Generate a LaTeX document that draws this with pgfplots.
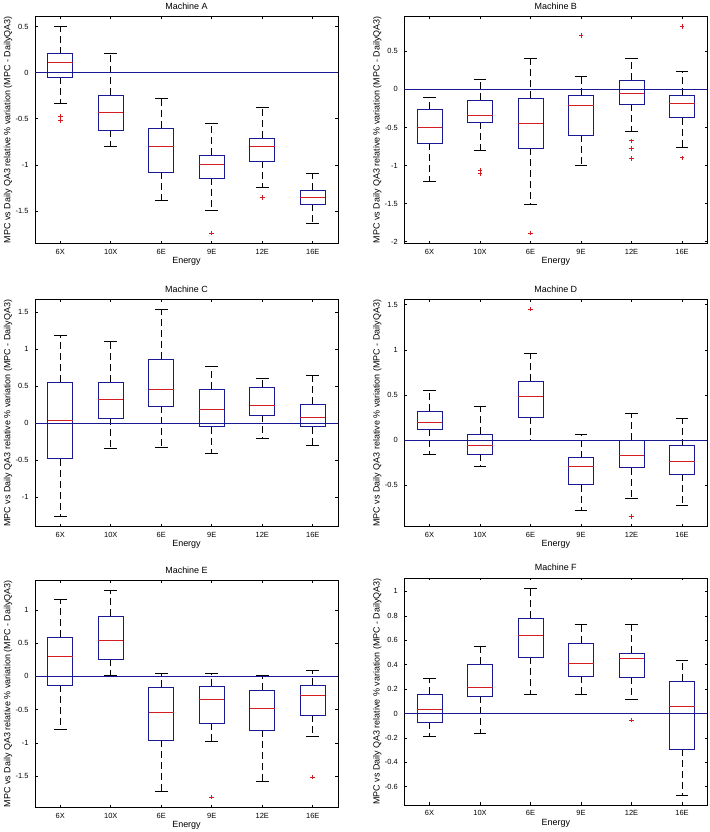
\documentclass[border=0pt]{standalone}
\usepackage{pgfplots}
\pgfplotsset{compat=1.18}
\usepgfplotslibrary{statistics}
\usepackage{fontspec}
\setmainfont{Liberation Sans}
\definecolor{boxblue}{RGB}{25,25,150}
\definecolor{medred}{RGB}{210,30,35}
\pgfplotsset{
  boxplot/draw direction=y,
  boxplot/box extend=0.5,
  boxplot/whisker extend=0.25,
  boxplot/every median/.style={draw=medred, line width=0.8bp},
  boxplot/draw/lower whisker/.code={%
    \draw[black, line width=0.7bp, dash pattern=on 7bp off 4bp]
      (boxplot cs:\pgfplotsboxplotvalue{lower quartile})
      -- (boxplot cs:\pgfplotsboxplotvalue{lower whisker});
    \draw[black, line width=0.7bp]
      (boxplot whisker cs:\pgfplotsboxplotvalue{lower whisker},0)
      -- (boxplot whisker cs:\pgfplotsboxplotvalue{lower whisker},1);
  },
  boxplot/draw/upper whisker/.code={%
    \draw[black, line width=0.7bp, dash pattern=on 7bp off 4bp]
      (boxplot cs:\pgfplotsboxplotvalue{upper quartile})
      -- (boxplot cs:\pgfplotsboxplotvalue{upper whisker});
    \draw[black, line width=0.7bp]
      (boxplot whisker cs:\pgfplotsboxplotvalue{upper whisker},0)
      -- (boxplot whisker cs:\pgfplotsboxplotvalue{upper whisker},1);
  },
  bx/.style={draw=boxblue, line width=0.8bp, no marks},
  ol/.style={only marks, mark=+, mark size=2.3bp, color=medred, draw=medred,
    mark options={draw=medred, solid, line width=1bp}},
  zl/.style={color=boxblue, draw=boxblue, line width=1bp, no marks},
  common/.style={
    scale only axis, width=303bp, height=227bp, anchor=south west,
    xmin=0.5, xmax=6.5, xtick={1,2,3,4,5,6},
    xticklabels={6X,10X,6E,9E,12E,16E},
    tick align=inside, major tick length=2.5bp,
    axis line style={line width=0.8bp},
    every tick/.style={black, line width=0.6bp},
    tick label style={font=\fontsize{7.5}{8}\selectfont},
    /pgf/number format/assume math mode=true,
    yticklabel style={/pgf/number format/fixed, xshift=-3bp},
    xticklabel style={yshift=-2bp},
    every axis title shift=0pt,
    title style={font=\fontsize{9}{10}\selectfont, at={(axis description cs:0.5,1.046)}, anchor=center},
    xlabel style={font=\fontsize{9}{10}\selectfont, at={(axis description cs:0.5,-0.079)}, anchor=center},
    ylabel style={font=\fontsize{9}{10}\selectfont, at={(axis description cs:-0.089,0.5)}, anchor=center},
    xlabel={Energy},
    ylabel={MPC vs Daily QA3 relative \% variation (MPC - DailyQA3)},
  },
}
\begin{document}
\begin{tikzpicture}
\path[use as bounding box] (0,0) rectangle (710bp,832bp);
% Machine A
\begin{axis}[common, at={(35bp,588.7bp)}, title={Machine A},
  ymin=-1.85, ymax=0.61, ytick={-1.5,-1,-0.5,0,0.5}]
\addplot[bx, boxplot prepared={draw position=1, lower whisker=-0.33, lower quartile=-0.047, median=0.105, upper quartile=0.203, upper whisker=0.504}] coordinates {};
\addplot[bx, boxplot prepared={draw position=2, lower whisker=-0.804, lower quartile=-0.623, median=-0.428, upper quartile=-0.246, upper whisker=0.207}] coordinates {};
\addplot[bx, boxplot prepared={draw position=3, lower whisker=-1.384, lower quartile=-1.08, median=-0.804, upper quartile=-0.601, upper whisker=-0.279}] coordinates {};
\addplot[bx, boxplot prepared={draw position=4, lower whisker=-1.493, lower quartile=-1.145, median=-1.0, upper quartile=-0.895, upper whisker=-0.547}] coordinates {};
\addplot[bx, boxplot prepared={draw position=5, lower whisker=-1.243, lower quartile=-0.96, median=-0.804, upper quartile=-0.71, upper whisker=-0.373}] coordinates {};
\addplot[bx, boxplot prepared={draw position=6, lower whisker=-1.634, lower quartile=-1.428, median=-1.351, upper quartile=-1.275, upper whisker=-1.09}] coordinates {};
\addplot[zl] coordinates {(0.5,0) (6.5,0)};
\addplot[ol] coordinates {(1,-0.475) (1,-0.518) (4,-1.739) (5,-1.351)};
\end{axis}
% Machine B
\begin{axis}[common, at={(404.3bp,588.7bp)}, title={Machine B},
  ymin=-2.02, ymax=0.96, ytick={-2,-1.5,-1,-0.5,0,0.5}]
\addplot[bx, boxplot prepared={draw position=1, lower whisker=-1.21, lower quartile=-0.706, median=-0.504, upper quartile=-0.259, upper whisker=-0.105}] coordinates {};
\addplot[bx, boxplot prepared={draw position=2, lower whisker=-0.798, lower quartile=-0.43, median=-0.338, upper quartile=-0.14, upper whisker=0.136}] coordinates {};
\addplot[bx, boxplot prepared={draw position=3, lower whisker=-1.509, lower quartile=-0.772, median=-0.443, upper quartile=-0.118, upper whisker=0.408}] coordinates {};
\addplot[bx, boxplot prepared={draw position=4, lower whisker=-0.996, lower quartile=-0.601, median=-0.215, upper quartile=-0.079, upper whisker=0.171}] coordinates {};
\addplot[bx, boxplot prepared={draw position=5, lower whisker=-0.548, lower quartile=-0.193, median=-0.048, upper quartile=0.123, upper whisker=0.408}] coordinates {};
\addplot[bx, boxplot prepared={draw position=6, lower whisker=-0.759, lower quartile=-0.373, median=-0.18, upper quartile=-0.079, upper whisker=0.241}] coordinates {};
\addplot[zl] coordinates {(0.5,0) (6.5,0)};
\addplot[ol] coordinates {(2,-1.066) (2,-1.11) (3,-1.886) (4,0.711) (5,-0.675) (5,-0.772) (5,-0.904) (6,0.829) (6,-0.899)};
\end{axis}
% Machine C
\begin{axis}[common, at={(35bp,305.3bp)}, title={Machine C},
  ymin=-1.40, ymax=1.667, ytick={-1,-0.5,0,0.5,1,1.5}]
\addplot[bx, boxplot prepared={draw position=1, lower whisker=-1.254, lower quartile=-0.483, median=0.041, upper quartile=0.555, upper whisker=1.191}] coordinates {};
\addplot[bx, boxplot prepared={draw position=2, lower whisker=-0.347, lower quartile=0.068, median=0.325, upper quartile=0.555, upper whisker=1.11}] coordinates {};
\addplot[bx, boxplot prepared={draw position=3, lower whisker=-0.325, lower quartile=0.23, median=0.46, upper quartile=0.862, upper whisker=1.543}] coordinates {};
\addplot[bx, boxplot prepared={draw position=4, lower whisker=-0.406, lower quartile=-0.05, median=0.19, upper quartile=0.46, upper whisker=0.772}] coordinates {};
\addplot[bx, boxplot prepared={draw position=5, lower whisker=-0.212, lower quartile=0.108, median=0.244, upper quartile=0.487, upper whisker=0.609}] coordinates {};
\addplot[bx, boxplot prepared={draw position=6, lower whisker=-0.298, lower quartile=-0.05, median=0.081, upper quartile=0.253, upper whisker=0.65}] coordinates {};
\addplot[zl] coordinates {(0.5,0) (6.5,0)};
\end{axis}
% Machine D
\begin{axis}[common, at={(404.3bp,305.3bp)}, title={Machine D},
  ymin=-0.96, ymax=1.556, ytick={-0.5,0,0.5,1,1.5}]
\addplot[bx, boxplot prepared={draw position=1, lower whisker=-0.159, lower quartile=0.119, median=0.2, upper quartile=0.319, upper whisker=0.552}] coordinates {};
\addplot[bx, boxplot prepared={draw position=2, lower whisker=-0.293, lower quartile=-0.159, median=-0.059, upper quartile=0.063, upper whisker=0.374}] coordinates {};
\addplot[bx, boxplot prepared={draw position=3, lower whisker=0.0, lower quartile=0.252, median=0.485, upper quartile=0.652, upper whisker=0.959}] coordinates {};
\addplot[bx, boxplot prepared={draw position=4, lower whisker=-0.781, lower quartile=-0.496, median=-0.293, upper quartile=-0.196, upper whisker=0.063}] coordinates {};
\addplot[bx, boxplot prepared={draw position=5, lower whisker=-0.648, lower quartile=-0.304, median=-0.17, upper quartile=0.0, upper whisker=0.296}] coordinates {};
\addplot[bx, boxplot prepared={draw position=6, lower whisker=-0.726, lower quartile=-0.381, median=-0.237, upper quartile=-0.063, upper whisker=0.237}] coordinates {};
\addplot[zl] coordinates {(0.5,0) (6.5,0)};
\addplot[ol] coordinates {(3,1.452) (5,-0.844)};
\end{axis}
% Machine E
\begin{axis}[common, at={(35bp,24.7bp)}, title={Machine E},
  ymin=-1.97, ymax=1.445, ytick={-1.5,-1,-0.5,0,0.5,1}]
\addplot[bx, boxplot prepared={draw position=1, lower whisker=-0.796, lower quartile=-0.135, median=0.305, upper quartile=0.586, upper whisker=1.156}] coordinates {};
\addplot[bx, boxplot prepared={draw position=2, lower whisker=0.015, lower quartile=0.255, median=0.541, upper quartile=0.901, upper whisker=1.291}] coordinates {};
\addplot[bx, boxplot prepared={draw position=3, lower whisker=-1.727, lower quartile=-0.961, median=-0.541, upper quartile=-0.165, upper whisker=0.045}] coordinates {};
\addplot[bx, boxplot prepared={draw position=4, lower whisker=-0.976, lower quartile=-0.706, median=-0.345, upper quartile=-0.15, upper whisker=0.045}] coordinates {};
\addplot[bx, boxplot prepared={draw position=5, lower whisker=-1.577, lower quartile=-0.811, median=-0.48, upper quartile=-0.21, upper whisker=0.015}] coordinates {};
\addplot[bx, boxplot prepared={draw position=6, lower whisker=-0.901, lower quartile=-0.586, median=-0.285, upper quartile=-0.135, upper whisker=0.09}] coordinates {};
\addplot[zl] coordinates {(0.5,0) (6.5,0)};
\addplot[ol] coordinates {(4,-1.817) (6,-1.517)};
\end{axis}
% Machine F
\begin{axis}[common, at={(404.3bp,27bp)}, title={Machine F},
  ymin=-0.75, ymax=1.11, ytick={-0.6,-0.4,-0.2,0,0.2,0.4,0.6,0.8,1}]
\addplot[bx, boxplot prepared={draw position=1, lower whisker=-0.189, lower quartile=-0.071, median=0.036, upper quartile=0.158, upper whisker=0.29}] coordinates {};
\addplot[bx, boxplot prepared={draw position=2, lower whisker=-0.161, lower quartile=0.142, median=0.216, upper quartile=0.404, upper whisker=0.552}] coordinates {};
\addplot[bx, boxplot prepared={draw position=3, lower whisker=0.158, lower quartile=0.462, median=0.637, upper quartile=0.781, upper whisker=1.025}] coordinates {};
\addplot[bx, boxplot prepared={draw position=4, lower whisker=0.158, lower quartile=0.306, median=0.413, upper quartile=0.577, upper whisker=0.73}] coordinates {};
\addplot[bx, boxplot prepared={draw position=5, lower whisker=0.117, lower quartile=0.295, median=0.454, upper quartile=0.495, upper whisker=0.73}] coordinates {};
\addplot[bx, boxplot prepared={draw position=6, lower whisker=-0.669, lower quartile=-0.292, median=0.06, upper quartile=0.262, upper whisker=0.437}] coordinates {};
\addplot[zl] coordinates {(0.5,0) (6.5,0)};
\addplot[ol] coordinates {(5,-0.055)};
\end{axis}
\end{tikzpicture}
\end{document}
